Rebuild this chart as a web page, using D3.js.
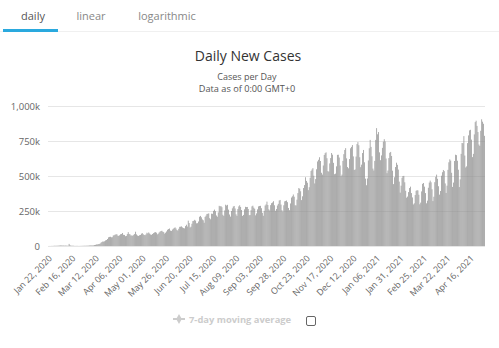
<!DOCTYPE html>
<html>
<head>
<meta charset="utf-8">
<script src="https://cdn.jsdelivr.net/npm/d3@7"></script>
<style>
  html, body { margin: 0; padding: 0; background: #fff; }
  svg { display: block; }
</style>
</head>
<body>
<svg id="chart" width="499" height="348"></svg>
<script>
// Daily new cases worldwide, in thousands, one value per day starting Jan 22, 2020.
const startDate = new Date(2020, 0, 22);
const cases2020 = [
  0.1, 0.3, 0.3, 0.7, 0.7, 0.8, 1.8, 1.5, 1.7, 2.0,
  2.1, 2.6, 3.2, 3.9, 3.7, 3.2, 3.4, 2.7, 3.0, 2.6, 2.1, 2.0, 15.1, 5.1, 2.6, 2.1, 2.0, 1.9, 0.6, 0.9, 1.0, 1.0, 0.6, 0.7, 0.9, 1.0, 1.2, 1.4, 1.9,
  1.8, 1.9, 2.5, 2.3, 2.8, 3.9, 4.0, 4.0, 4.0, 4.6, 7.0, 8.0, 11.0, 11.0, 13.5, 14.5, 16.5, 23.5, 28.5, 32.5, 31.0, 34.0, 40.0, 43.0, 50.0, 62.0, 65.0, 66.0, 62.0, 63.0, 75.0,
  77, 81, 83, 84, 74, 72, 77, 84, 86, 93, 80, 79, 70, 72, 85, 99, 86, 83, 74, 76, 73, 80, 86, 102, 83, 75, 72, 77, 79, 88,
  92, 84, 79, 77, 83, 95, 90, 97, 89, 82, 80, 86, 92, 97, 99, 95, 83, 88, 97, 103, 107, 109, 102, 99, 88, 95, 104, 116, 121, 125, 110,
  107, 117, 123, 129, 133, 125, 114, 110, 123, 137, 138, 140, 133, 128, 126, 142, 152, 139, 181, 164, 132, 138, 159, 178, 180, 187, 181, 162, 163, 175,
  209, 215, 205, 190, 184, 166, 208, 217, 229, 230, 233, 199, 191, 231, 230, 251, 260, 249, 218, 209, 240, 287, 283, 285, 277, 223, 215, 254, 295, 289, 294,
  260, 225, 210, 250, 269, 282, 286, 268, 226, 215, 264, 283, 291, 279, 257, 215, 222, 262, 280, 278, 279, 264, 220, 221, 256, 283, 288, 274, 266, 219, 233,
  262, 283, 286, 287, 270, 237, 216, 251, 289, 297, 317, 293, 262, 254, 292, 306, 311, 320, 291, 252, 264, 289, 301, 325, 329, 296, 256, 246, 291, 319,
  322, 325, 313, 272, 256, 304, 346, 355, 368, 352, 291, 290, 331, 378, 414, 409, 391, 328, 355, 414, 435, 491, 465, 452, 399, 420, 487, 536, 546, 556, 502,
  447, 478, 548, 604, 616, 634, 607, 523, 510, 575, 650, 663, 669, 627, 535, 531, 590, 628, 664, 652, 594, 513, 517, 569, 651, 652, 632, 575, 499, 510,
  608, 656, 686, 699, 626, 564, 555, 621, 698, 708, 721, 640, 543, 547, 639, 728, 742, 720, 634, 563, 581, 664, 686, 598, 481, 434, 482, 611, 698, 758, 708
];
const cases2021 = [
  641, 553, 539, 608, 758, 842, 798, 814, 669, 613, 647, 701, 745, 763, 747, 625, 520, 539, 628, 666, 672, 643, 538, 442, 491, 564, 595, 580, 546, 460, 381,
  431, 487, 500, 501, 455, 394, 345, 353, 385, 414, 424, 378, 347, 297, 305, 364, 394, 399, 397, 366, 298, 310, 390, 444, 450, 424, 378, 305,
  324, 416, 453, 467, 455, 405, 321, 352, 456, 494, 510, 480, 427, 367, 393, 502, 527, 543, 535, 447, 379, 431, 544, 598, 619, 610, 523, 422, 453, 607, 652,
  649, 609, 545, 421, 476, 658, 736, 734, 785, 646, 561, 569, 735, 790, 826, 830, 760, 635, 658, 797, 885, 895, 858, 814, 725, 715, 823, 905, 888, 873,
  787
];
const yTickValues = [0, 250, 500, 750, 1000];
const yTickLabels = ["0", "250k", "500k", "750k", "1,000k"];
const tabLabels = ["daily", "linear", "logarithmic"];
const xLabelEvery = 25;

const values = cases2020.concat(cases2021);
const dates = values.map((_, i) => d3.timeDay.offset(startDate, i));
const fmtDate = d3.timeFormat("%b %d, %Y");

const svg = d3.select("#chart");
const font = "'Open Sans', 'Noto Sans', sans-serif";

// Tabs
const tabX = [33, 91, 167];
svg.append("line").attr("x1", 0).attr("x2", 499).attr("y1", 31.5).attr("y2", 31.5)
  .attr("stroke", "#f0f0f0");
svg.selectAll("text.tab").data(tabLabels).join("text")
  .attr("class", "tab")
  .attr("x", (d, i) => tabX[i]).attr("y", 20)
  .attr("text-anchor", "middle")
  .attr("font-family", font).attr("font-size", 11)
  .attr("fill", (d, i) => i === 0 ? "#555" : "#888")
  .text(d => d);
svg.append("rect").attr("x", 3).attr("y", 29).attr("width", 55).attr("height", 3)
  .attr("fill", "#2aa9de");

// Titles
svg.append("text").attr("x", 248).attr("y", 61).attr("text-anchor", "middle")
  .attr("font-family", font).attr("font-size", 14).attr("fill", "#333")
  .text("Daily New Cases");
svg.append("text").attr("x", 247).attr("y", 80).attr("text-anchor", "middle")
  .attr("font-family", font).attr("font-size", 9).attr("fill", "#555")
  .text("Cases per Day");
svg.append("text").attr("x", 247).attr("y", 92).attr("text-anchor", "middle")
  .attr("font-family", font).attr("font-size", 9.2).attr("fill", "#555")
  .text("Data as of 0:00 GMT+0");

// Plot area
const plot = { left: 48, right: 485, top: 106, bottom: 246 };
const x = d3.scaleBand().domain(d3.range(values.length))
  .range([plot.left, plot.right]).paddingInner(0.25).paddingOuter(0.12);
const y = d3.scaleLinear().domain([0, 1000]).range([plot.bottom, plot.top]);

// Grid lines
svg.append("g").selectAll("line").data(yTickValues).join("line")
  .attr("x1", plot.left).attr("x2", plot.right)
  .attr("y1", d => Math.round(y(d)) + 0.5).attr("y2", d => Math.round(y(d)) + 0.5)
  .attr("stroke", "#e6e6e6");

// Y axis labels
const yAxis = d3.axisLeft(y).tickValues(yTickValues)
  .tickFormat((d, i) => yTickLabels[i]).tickSize(0).tickPadding(0);
const gy = svg.append("g").attr("transform", `translate(40,0)`).call(yAxis);
gy.select(".domain").remove();
gy.selectAll("text").attr("font-family", font).attr("font-size", 9.5).attr("fill", "#666");

// Bars
svg.append("g").selectAll("rect").data(values).join("rect")
  .attr("x", (d, i) => x(i))
  .attr("width", x.bandwidth())
  .attr("y", d => y(d))
  .attr("height", d => plot.bottom - y(d))
  .attr("fill", "#8c8c8c");

// X axis labels, every 25 days, rotated
const xTicks = d3.range(0, values.length, xLabelEvery);
const xAxis = d3.axisBottom(x).tickValues(xTicks)
  .tickFormat(i => fmtDate(dates[i])).tickSize(0).tickPadding(0);
const gx = svg.append("g").attr("transform", `translate(0,${plot.bottom})`).call(xAxis);
gx.select(".domain").remove();
gx.selectAll("text")
  .attr("font-family", font).attr("font-size", 8.8).attr("fill", "#666")
  .attr("text-anchor", "end")
  .attr("dy", null)
  .attr("transform", "translate(4,13) rotate(-45)");

// Legend for the hidden moving-average series
const lg = svg.append("g");
lg.append("line").attr("x1", 173).attr("x2", 185).attr("y1", 319).attr("y2", 319)
  .attr("stroke", "#ccc").attr("stroke-width", 2);
lg.append("path").attr("d", d3.symbol(d3.symbolDiamond, 28)())
  .attr("transform", "translate(179,319)").attr("fill", "#ccc");
lg.append("text").attr("x", 189).attr("y", 322.5)
  .attr("font-family", font).attr("font-size", 9.4).attr("font-weight", "bold")
  .attr("fill", "#ccc").text("7-day moving average");
lg.append("rect").attr("x", 306.5).attr("y", 316.5).attr("width", 9).attr("height", 9)
  .attr("rx", 1.5).attr("fill", "#fff").attr("stroke", "#666");
</script>
</body>
</html>
